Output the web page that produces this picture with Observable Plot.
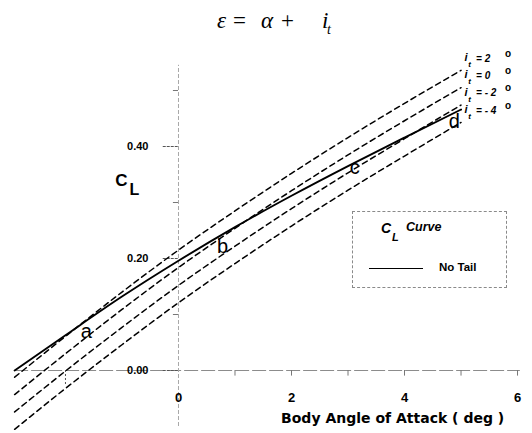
<!DOCTYPE html>
<html>
<head>
<meta charset="utf-8">
<script src="https://cdn.jsdelivr.net/npm/d3@7"></script>
<script src="https://cdn.jsdelivr.net/npm/@observablehq/plot@0.6"></script>
<style>
  body { margin: 0; background: #fff; font-family: "Liberation Sans", Arial, sans-serif; }
  #wrap { position: relative; width: 532px; height: 433px; overflow: hidden; background: #fff; }
  #title { position: absolute; left: 0; top: 0; width: 532px; height: 40px; font-family: "Liberation Serif", "DejaVu Serif", serif; font-size: 23px; color: #000; }
  #title span { position: absolute; top: 9px; line-height: 23px; white-space: nowrap; }
  #chart { position: absolute; left: 0; top: 40px; }
  #legend { position: absolute; left: 352px; top: 211px; width: 155px; height: 77px; border: 1px dashed #8a8a8a; box-sizing: border-box; background: #fff; }
  #legend span { position: absolute; line-height: 1; white-space: nowrap; font-weight: bold; color: #000; }
  #legend .sample { position: absolute; left: 16px; top: 56px; width: 54px; height: 0; border-top: 1.6px solid #000; }
</style>
</head>
<body>
<div id="wrap">
  <div id="title">
    <span style="left:217px;font-style:italic">ε</span>
    <span style="left:233px">=</span>
    <span style="left:261px;font-style:italic">α</span>
    <span style="left:281px">+</span>
    <span style="left:322px;font-style:italic">i</span>
    <span style="left:327px;top:18px;font-size:14px;font-style:italic">t</span>
  </div>
  <div id="chart"></div>
  <div id="legend">
    <span style="left:28px;top:9px;font-size:14px;font-style:italic">C</span>
    <span style="left:39px;top:20px;font-size:11px;font-style:italic">L</span>
    <span style="left:53px;top:9px;font-size:12.5px;font-style:italic">Curve</span>
    <div class="sample"></div>
    <span style="left:86px;top:50px;font-size:11.5px">No Tail</span>
  </div>
</div>
<script>
// Body angle of attack (deg)
const alpha = [-2.9, -2, -1, 0, 1, 2, 3, 4, 5];
// C_L, no tail (solid)
const noTail = [0.000, 0.063, 0.132, 0.196, 0.256, 0.312, 0.365, 0.416, 0.466];
// C_L with tail at different incidences (dashed)
const itPos2 = [-0.012, 0.061, 0.140, 0.215, 0.285, 0.352, 0.416, 0.477, 0.536];
const itZero = [-0.043, 0.030, 0.109, 0.184, 0.254, 0.321, 0.385, 0.446, 0.505];
const itNeg2 = [-0.074, -0.001, 0.077, 0.152, 0.222, 0.289, 0.353, 0.414, 0.474];
const itNeg4 = [-0.105, -0.032, 0.046, 0.121, 0.191, 0.258, 0.322, 0.383, 0.443];
const itNames = ["2", "0", "-2", "-4"];
const itTexts = ["= 2", "= 0", "= - 2", "= - 4"];

// point letters on the no-tail curve
const letterNames = ["a", "b", "c", "d"];
const letterAlpha = [-1.63, 0.78, 3.12, 4.88];
const letterCL = [0.070, 0.222, 0.363, 0.445];

// tick values
const yMajorTicks = [0.00, 0.20, 0.40];
const yMinorTicks = [0.10, 0.30, 0.50];
const xTickLabels = [0, 2, 4, 6];
const xTicks = [1, 2, 3, 4, 5, 6];

const itSeries = [itPos2, itZero, itNeg2, itNeg4];
const dashed = itSeries.flatMap((vals, k) => alpha.map((a, i) => ({a, cl: vals[i], it: itNames[k]})));
const solid = alpha.map((a, i) => ({a, cl: noTail[i]}));
const ends = itSeries.map((vals, k) => ({a: alpha[alpha.length - 1], cl: vals[vals.length - 1], text: itTexts[k]}));
const letters = letterNames.map((t, i) => ({t, a: letterAlpha[i], cl: letterCL[i]}));

const font = "Liberation Sans, Arial, sans-serif";

const chart = Plot.plot({
  width: 532,
  height: 393,
  marginLeft: 0,
  marginRight: 6.5,
  marginTop: 16.4,
  marginBottom: 1.4,
  x: {domain: [-3.15, 6.15], axis: null},
  y: {domain: [-0.11, 0.56], axis: null},
  style: {fontFamily: font, background: "transparent", color: "#000"},
  marks: [
    // axes lines
    Plot.ruleY([0], {x1: -2.9, x2: 6.05, stroke: "#8c8c8c", strokeWidth: 1, strokeDasharray: "14,3"}),
    Plot.ruleX([0], {y1: -0.1, y2: 0.545, stroke: "#a8a8a8", strokeWidth: 1, strokeDasharray: "4,2"}),
    Plot.ruleY(yMajorTicks, {x1: -0.27, x2: 0, stroke: "#555", strokeWidth: 1, strokeDasharray: "3,1"}),
    Plot.ruleY(yMinorTicks, {x1: -0.09, x2: 0, stroke: "#777", strokeWidth: 1}),
    Plot.ruleX(xTicks, {y1: 0, y2: -0.01, stroke: "#777", strokeWidth: 1}),
    Plot.ruleX([-2], {y1: 0, y2: -0.027, stroke: "#555", strokeWidth: 1, strokeDasharray: "2,2"}),
    Plot.text(yMajorTicks, {x: 0, y: d => d, text: d => d.toFixed(2), dx: -30, textAnchor: "end", fontWeight: "bold", fontSize: 11}),
    Plot.text(xTickLabels, {x: d => d, y: 0, text: d => String(d), dy: 27, fontWeight: "bold", fontSize: 13}),
    // curves
    Plot.line(dashed, {x: "a", y: "cl", z: "it", stroke: "#000", strokeWidth: 1.5, strokeDasharray: "5.5,4", curve: "monotone-x"}),
    Plot.line(solid, {x: "a", y: "cl", stroke: "#000", strokeWidth: 1.9, curve: "monotone-x"}),
    // letters
    Plot.text(letters, {x: "a", y: "cl", text: "t", fontSize: 20}),
    // incidence labels
    Plot.text(ends, {x: "a", y: "cl", text: () => "i", dx: 5, dy: -13, fontSize: 11, fontWeight: "bold", fontStyle: "italic"}),
    Plot.text(ends, {x: "a", y: "cl", text: () => "t", dx: 8.5, dy: -6, fontSize: 8, fontWeight: "bold", fontStyle: "italic"}),
    Plot.text(ends, {x: "a", y: "cl", text: "text", dx: 15, dy: -12, textAnchor: "start", fontSize: 10, fontWeight: "bold", fontStyle: "italic"}),
    Plot.text(ends, {x: "a", y: "cl", text: () => "o", dx: 47, dy: -17, fontSize: 10, fontWeight: "bold"}),
    // axis titles
    Plot.text(["C"], {x: 0, y: 0.339, text: d => d, dx: -57, fontSize: 17, fontWeight: "bold"}),
    Plot.text(["L"], {x: 0, y: 0.339, text: d => d, dx: -44, dy: 9, fontSize: 16, fontWeight: "bold"}),
    Plot.text(["Body Angle of Attack ( deg )"], {x: 3.79, y: -0.0857, text: d => d, fontSize: 14, fontWeight: "bold", fontFamily: "DejaVu Sans, sans-serif"})
  ]
});
document.getElementById("chart").appendChild(chart);
</script>
</body>
</html>
